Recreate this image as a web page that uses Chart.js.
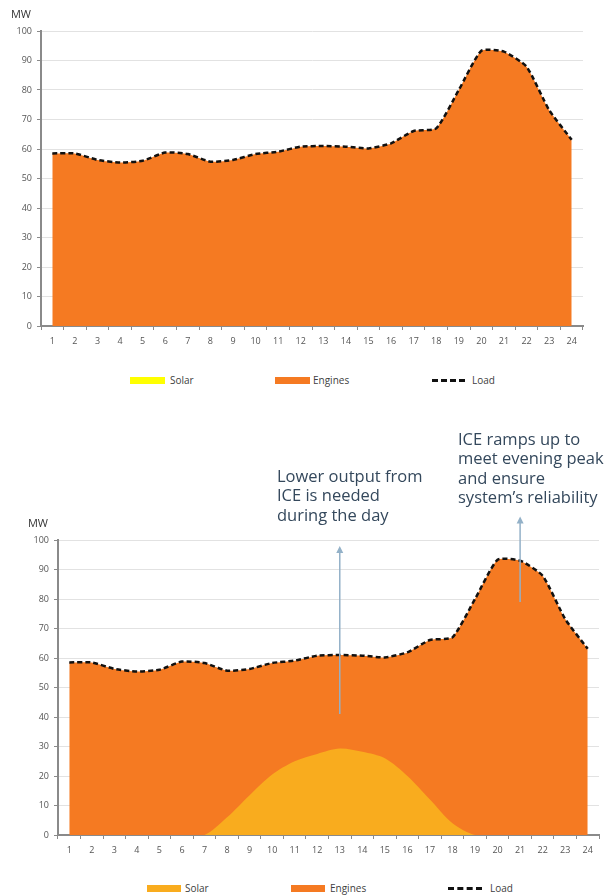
<!DOCTYPE html>
<html>
<head>
<meta charset="utf-8">
<script src="https://cdn.jsdelivr.net/npm/chart.js@4/dist/chart.umd.min.js"></script>
<style>
    body { margin: 0; background: #fff; width: 609px; height: 896px; position: relative; overflow: hidden; font-family: "Open Sans", sans-serif; }
    .box { position: absolute; left: 0; width: 609px; }
    .item { position: absolute; font-size: 10px; color: #404040; line-height: 12px; }
    .sw { position: absolute; height: 7px; }
    .dash { position: absolute; height: 0; border-top: 3px dashed #111; }
</style>
</head>
<body>
<div class="box" style="top:0;height:356px"><canvas id="topChart"></canvas></div>
<div class="box" style="top:420px;height:445px"><canvas id="bottomChart"></canvas></div>

<div class="sw" style="left:130px;top:377px;width:35px;background:#FFFF00"></div>
<div class="item" style="left:170px;top:374px">Solar</div>
<div class="sw" style="left:275px;top:377px;width:35px;background:#F57A22"></div>
<div class="item" style="left:313px;top:374px">Engines</div>
<div class="dash" style="left:432px;top:379px;width:33px"></div>
<div class="item" style="left:472px;top:374px">Load</div>

<div class="sw" style="left:147px;top:885px;width:34px;background:#F9AC1E"></div>
<div class="item" style="left:185px;top:882px">Solar</div>
<div class="sw" style="left:291px;top:885px;width:34px;background:#F57A22"></div>
<div class="item" style="left:330px;top:882px">Engines</div>
<div class="dash" style="left:448px;top:887px;width:34px"></div>
<div class="item" style="left:490px;top:882px">Load</div>

<script>
// hours of the day
const hours = ['1','2','3','4','5','6','7','8','9','10','11','12','13','14','15','16','17','18','19','20','21','22','23','24'];

// total load (MW), same curve in both charts
const load = [58.5, 58.5, 56.3, 55.4, 56, 58.8, 58.3, 55.7, 56.3, 58.3, 59.1, 60.8,
              61, 60.8, 60.2, 61.9, 66.1, 67, 80, 93.3, 93, 87.9, 73.2, 63.1];

// solar output (MW)
const solarNone = [0, 0, 0, 0, 0, 0, 0, 0, 0, 0, 0, 0, 0, 0, 0, 0, 0, 0, 0, 0, 0, 0, 0, 0];
const solarDay = [0, 0, 0, 0, 0, 0, 0, 6, 13.5, 20.5, 25, 27.5, 29.3, 28.2, 26, 20, 12, 4, 0, 0, 0, 0, 0, 0];

const yTicks = [0, 10, 20, 30, 40, 50, 60, 70, 80, 90, 100];

// annotation arrows: hour, from MW, to MW
const arrows = [
    { hour: '13', from: 41, to: 98 },
    { hour: '21', from: 79, to: 108 }
];

const noteText1 = ['Lower output from', 'ICE is needed', 'during the day'];
const noteText2 = ['ICE ramps up to', 'meet evening peak', 'and ensure', 'system\u2019s reliability'];

const ORANGE = '#F57A22';

function makeDatasets(solar, solarColor) {
    return [
        {
            label: 'Load', data: load, order: 0,
            borderColor: '#111', borderWidth: 2.5, borderDash: [5, 3],
            pointRadius: 0, tension: 0.18, fill: false
        },
        {
            label: 'Solar', data: solar, order: 1,
            backgroundColor: solarColor, borderWidth: 0,
            pointRadius: 0, tension: 0.3, fill: 'origin'
        },
        {
            // engines cover everything up to the load curve
            label: 'Engines', data: load, order: 2,
            backgroundColor: ORANGE, borderWidth: 0,
            pointRadius: 0, tension: 0.18, fill: 'origin'
        }
    ];
}

function makeOptions(padding, yWidth) {
    return {
        responsive: true,
        maintainAspectRatio: false,
        animation: false,
        layout: { padding: padding },
        plugins: { legend: { display: false }, tooltip: { enabled: false } },
        scales: {
            x: {
                offset: true,
                grid: { offset: true, drawOnChartArea: false, tickLength: 4, tickColor: '#8a8a8a' },
                border: { color: '#8a8a8a', width: 2 },
                ticks: { color: '#555', font: { family: 'Open Sans', size: 9 }, padding: 6, maxRotation: 0, autoSkip: false },
                afterFit: function (s) { s.height = 30; }
            },
            y: {
                min: 0, max: 100,
                afterBuildTicks: function (s) { s.ticks = yTicks.map(v => ({ value: v })); },
                grid: { color: '#e2e2e2', tickLength: 4, tickColor: '#8a8a8a' },
                border: { color: '#8a8a8a', width: 2 },
                ticks: { color: '#555', font: { family: 'Open Sans', size: 9 }, padding: 5 },
                afterFit: function (s) { s.width = yWidth; }
            }
        }
    };
}

function textPlugin(mw, notes, withArrows) {
    return {
        id: 'notes',
        afterDraw(chart) {
            const ctx = chart.ctx;
            ctx.save();
            ctx.fillStyle = '#333';
            ctx.font = '11px "Open Sans"';
            ctx.textAlign = 'center';
            ctx.textBaseline = 'middle';
            ctx.fillText('MW', mw.x, mw.y);

            if (withArrows) {
                const xs = chart.scales.x, ys = chart.scales.y;
                ctx.strokeStyle = '#93b1c8';
                ctx.fillStyle = '#93b1c8';
                ctx.lineWidth = 1.5;
                arrows.forEach(a => {
                    const x = xs.getPixelForValue(hours.indexOf(a.hour));
                    const y0 = ys.getPixelForValue(a.from);
                    const y1 = ys.getPixelForValue(a.to);
                    ctx.beginPath();
                    ctx.moveTo(x, y0);
                    ctx.lineTo(x, y1 + 5);
                    ctx.stroke();
                    ctx.beginPath();
                    ctx.moveTo(x, y1);
                    ctx.lineTo(x - 3.5, y1 + 7);
                    ctx.lineTo(x + 3.5, y1 + 7);
                    ctx.closePath();
                    ctx.fill();
                });
            }

            ctx.fillStyle = '#34485c';
            ctx.font = '16.5px "Open Sans"';
            ctx.textAlign = 'left';
            notes.forEach(n => {
                n.lines.forEach((t, i) => ctx.fillText(t, n.x, n.y + i * n.lh));
            });
            ctx.restore();
        }
    };
}

new Chart(document.getElementById('topChart'), {
    type: 'line',
    data: { labels: hours, datasets: makeDatasets(solarNone, '#FFFF00') },
    options: makeOptions({ left: 0, right: 26, top: 31, bottom: 0 }, 41),
    plugins: [textPlugin({ x: 21, y: 15 }, [], false)]
});

new Chart(document.getElementById('bottomChart'), {
    type: 'line',
    data: { labels: hours, datasets: makeDatasets(solarDay, '#F9AC1E') },
    options: makeOptions({ left: 0, right: 10, top: 120, bottom: 0 }, 58),
    plugins: [textPlugin({ x: 38, y: 104 }, [
        { lines: noteText1, x: 277, y: 57, lh: 19.7 },
        { lines: noteText2, x: 458, y: 20, lh: 19.5 }
    ], true)]
});
</script>
</body>
</html>
